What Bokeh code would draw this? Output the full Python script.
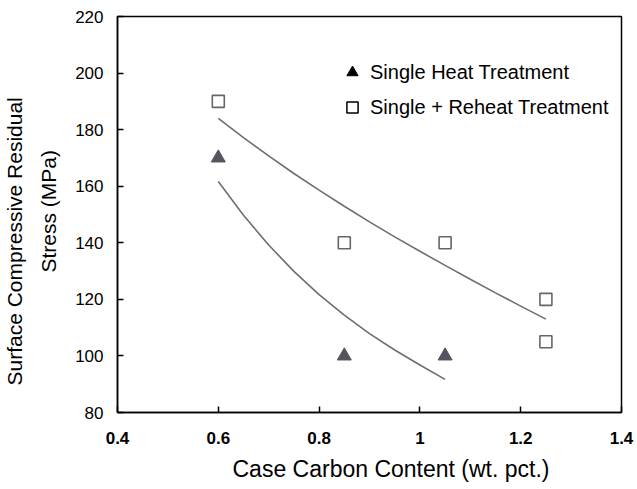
from bokeh.plotting import figure
from bokeh.models import Range1d, FixedTicker, Legend, LegendItem, ColumnDataSource, Title
from bokeh.embed import file_html
from bokeh.resources import INLINE

# Data
single_x = [0.6, 0.85, 1.05]
single_y = [170, 100, 100]
reheat_x = [0.6, 0.85, 1.05, 1.25, 1.25]
reheat_y = [190, 140, 140, 120, 105]

# fitted trend lines
fit_single_x = [0.6, 0.65, 0.7, 0.75, 0.8, 0.85, 0.9, 0.95, 1.0, 1.05]
fit_single_y = [161.7, 149.7, 139.2, 129.9, 121.7, 114.4, 107.9, 102.1, 96.8, 91.7]
fit_reheat_x = [0.6, 0.65, 0.7, 0.75, 0.8, 0.85, 0.9, 0.95, 1.0, 1.05, 1.1, 1.15, 1.2, 1.25]
fit_reheat_y = [184.0, 177.2, 170.7, 164.5, 158.6, 152.9, 147.4, 142.1, 137.0, 132.0,
                127.1, 122.3, 117.6, 113.0]

x_ticks = [0.4, 0.6, 0.8, 1.0, 1.2, 1.4]
x_tick_labels = {0.4: "0.4", 0.6: "0.6", 0.8: "0.8", 1.0: "1", 1.2: "1.2", 1.4: "1.4"}
y_ticks = [80, 100, 120, 140, 160, 180, 200, 220]

x_title = "Case Carbon Content (wt. pct.)"
y_title_lines = ["Surface Compressive Residual", "Stress (MPa)"]
legend_labels = ["Single Heat Treatment", "Single + Reheat Treatment"]

FONT = "Liberation Sans"

p = figure(width=637, height=489, output_backend="svg", toolbar_location=None,
           x_range=Range1d(0.4, 1.4), y_range=Range1d(80, 220),
           min_border_left=117, min_border_right=16, min_border_top=16, min_border_bottom=77)

p.background_fill_color = "white"
p.border_fill_color = "white"
p.outline_line_color = "black"
p.outline_line_width = 1.5
p.xgrid.visible = False
p.ygrid.visible = False

# axes
p.xaxis.ticker = FixedTicker(ticks=x_ticks)
p.xaxis.major_label_overrides = x_tick_labels
p.yaxis.ticker = FixedTicker(ticks=y_ticks)
for ax in (p.xaxis[0], p.yaxis[0]):
    ax.axis_line_color = "black"
    ax.axis_line_width = 1.5
    ax.major_tick_in = 6
    ax.major_tick_out = 0
    ax.major_tick_line_color = "black"
    ax.major_tick_line_width = 1.5
    ax.minor_tick_line_color = None
    ax.major_label_text_font = FONT
    ax.major_label_text_font_size = "17px"
    ax.major_label_text_color = "black"

p.xaxis.major_label_text_font_style = "bold"
p.xaxis.major_label_standoff = 19
p.yaxis.major_label_standoff = 14

# axis titles as side-panel titles
p.add_layout(Title(text=x_title, align="left", offset=115, standoff=14,
                   text_font=FONT, text_font_size="23px", text_font_style="normal",
                   text_color="black"), "below")
p.add_layout(Title(text=y_title_lines[1], align="left", offset=140, standoff=26,
                   text_font=FONT, text_font_size="21px", text_font_style="normal",
                   text_color="black"), "left")
p.add_layout(Title(text=y_title_lines[0], align="left", offset=27, standoff=-9,
                   text_font=FONT, text_font_size="21px", text_font_style="normal",
                   text_color="black"), "left")

# trend lines
p.line(fit_reheat_x, fit_reheat_y, line_color="#6e6e6e", line_width=1.6)
p.line(fit_single_x, fit_single_y, line_color="#6e6e6e", line_width=1.6)

# data points
p.scatter(single_x, single_y, marker="triangle", size=14,
          fill_color="#55555f", line_color="#55555f")
p.scatter(reheat_x, reheat_y, marker="square", size=12,
          fill_color="white", line_color="#666666", line_width=1.6)

# legend (black symbols, as in the original); sources hold one non-drawn point
leg_src = ColumnDataSource(data=dict(x=[float("nan")], y=[float("nan")]))
r_leg1 = p.scatter("x", "y", source=leg_src, marker="triangle", size=14,
                   fill_color="black", line_color="black")
r_leg2 = p.scatter("x", "y", source=leg_src, marker="square", size=12,
                   fill_color="white", line_color="black", line_width=1.5)

legend = Legend(items=[LegendItem(label=legend_labels[0], renderers=[r_leg1]),
                       LegendItem(label=legend_labels[1], renderers=[r_leg2])],
                location=(221, 291), orientation="vertical",
                label_text_font=FONT, label_text_font_size="20px",
                label_text_color="black",
                glyph_width=28, glyph_height=28, spacing=7, padding=0,
                label_standoff=4,
                border_line_alpha=0, background_fill_alpha=0)
p.add_layout(legend)

open("out.html", "w").write(file_html(p, INLINE))
